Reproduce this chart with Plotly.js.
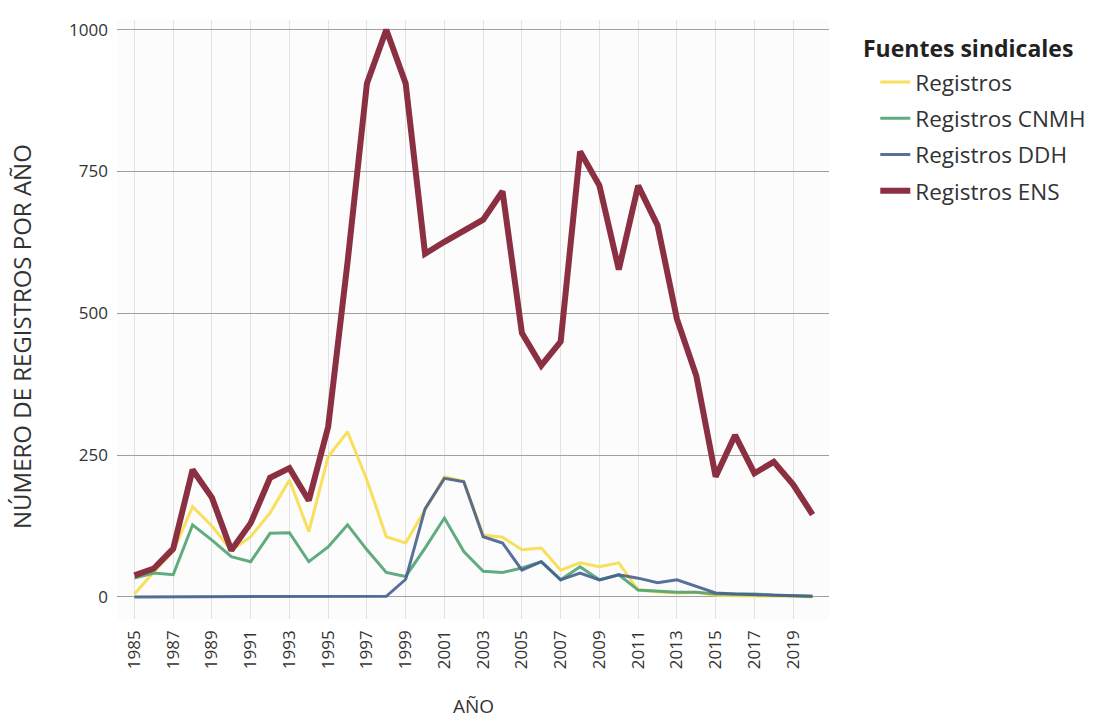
<!DOCTYPE html>
<html>
<head>
<meta charset="utf-8">
<script src="https://cdn.plot.ly/plotly-3.0.1.min.js"></script>
<style>html,body{margin:0;padding:0;background:#fff;}#chart{width:1096px;height:719px;}</style>
</head>
<body>
<div id="chart"></div>
<script>
const years = [1985,1986,1987,1988,1989,1990,1991,1992,1993,1994,1995,1996,1997,1998,1999,2000,2001,2002,2003,2004,2005,2006,2007,2008,2009,2010,2011,2012,2013,2014,2015,2016,2017,2018,2019,2020];
const registros = [5,44,80,159,125,82,106,148,206,115,247,291,206,106,95,153,212,204,109,105,83,86,47,60,53,60,12,9,7,8,3,2,2,1,1,0];
const registrosCNMH = [33,42,39,127,100,71,62,112,113,62,88,127,83,43,36,86,139,80,45,43,51,62,30,53,30,39,12,10,8,8,5,5,5,3,2,1];
const registrosDDH = [0,0,0,0,0,0,0,0,0,0,0,0,0,1,31,155,209,203,106,95,47,62,30,42,30,39,33,25,30,18,7,5,4,3,2,1];
const registrosENS = [38,50,85,224,175,82,130,210,227,170,300,590,905,1000,905,605,626,646,665,715,465,408,450,785,725,577,725,655,490,390,212,285,218,238,198,145];

const seriesNames = ['Registros','Registros CNMH','Registros DDH','Registros ENS'];
const seriesData = [registros, registrosCNMH, registrosDDH, registrosENS];
const seriesColors = ['#f7dc4a','#4fa372','#47608f','#8b3042'];
const seriesWidths = [3,3,3,6];
const legendTitle = 'Fuentes sindicales';
const yTitle = 'NÚMERO DE REGISTROS POR AÑO';
const xTitle = 'AÑO';

const traces = seriesData.map((d,i)=>({
  x: years, y: d, type:'scatter', mode:'lines', name: seriesNames[i],
  legendgroup: 'g'+i,
  line:{color: seriesColors[i], width: seriesWidths[i]},
  opacity: i===3 ? 1 : 0.9
}));

const layout = {
  width:1096, height:719,
  margin:{l:117, r:267, t:20, b:100, autoexpand:false},
  paper_bgcolor:'#ffffff', plot_bgcolor:'#fcfcfc',
  font:{family:'"Open Sans", "Noto Sans", sans-serif', color:'#333', size:17},
  showlegend:true,
  legend:{
    x:1.065, xanchor:'left', y:0.9316, yanchor:'top',
    font:{size:22.5, color:'#333'},
    tracegroupgap:4,
    bgcolor:'rgba(0,0,0,0)'
  },
  annotations:[{
    text:'<b>'+legendTitle+'</b>', xref:'paper', yref:'paper',
    x:1.0, xshift:32, xanchor:'left', y:1.0, yanchor:'middle', yshift:-28,
    showarrow:false, font:{size:23, color:'#222'}
  },{
    text:yTitle, xref:'paper', yref:'paper', textangle:-90,
    x:0, xshift:-95, xanchor:'center', y:0.4708, yanchor:'middle',
    showarrow:false, font:{size:24, color:'#333'}
  },{
    text:xTitle, xref:'paper', yref:'paper',
    x:0.5, xanchor:'center', y:-0.1452, yanchor:'middle',
    showarrow:false, font:{size:19, color:'#333'}
  }],
  xaxis:{
    range:[1984.1, 2020.85],
    tickmode:'linear', tick0:1985, dtick:2,
    tickangle:-90,
    tickfont:{size:17, color:'#333'},
    ticklabelstandoff:7,
    showgrid:true, gridcolor:'#e2e2e2', gridwidth:1,
    zeroline:false, showline:false, ticks:''
  },
  yaxis:{
    range:[-39, 1017],
    tickvals:[0,250,500,750,1000],
    ticktext:['0','250','500','750','1000'],
    tickfont:{size:17, color:'#333'},
    showgrid:true, gridcolor:'#a0a0a0', gridwidth:1,
    zeroline:false, showline:false, ticks:'',
    ticklabelstandoff:8
  }
};

Plotly.newPlot('chart', traces, layout, {displayModeBar:false, staticPlot:true});
</script>
</body>
</html>
